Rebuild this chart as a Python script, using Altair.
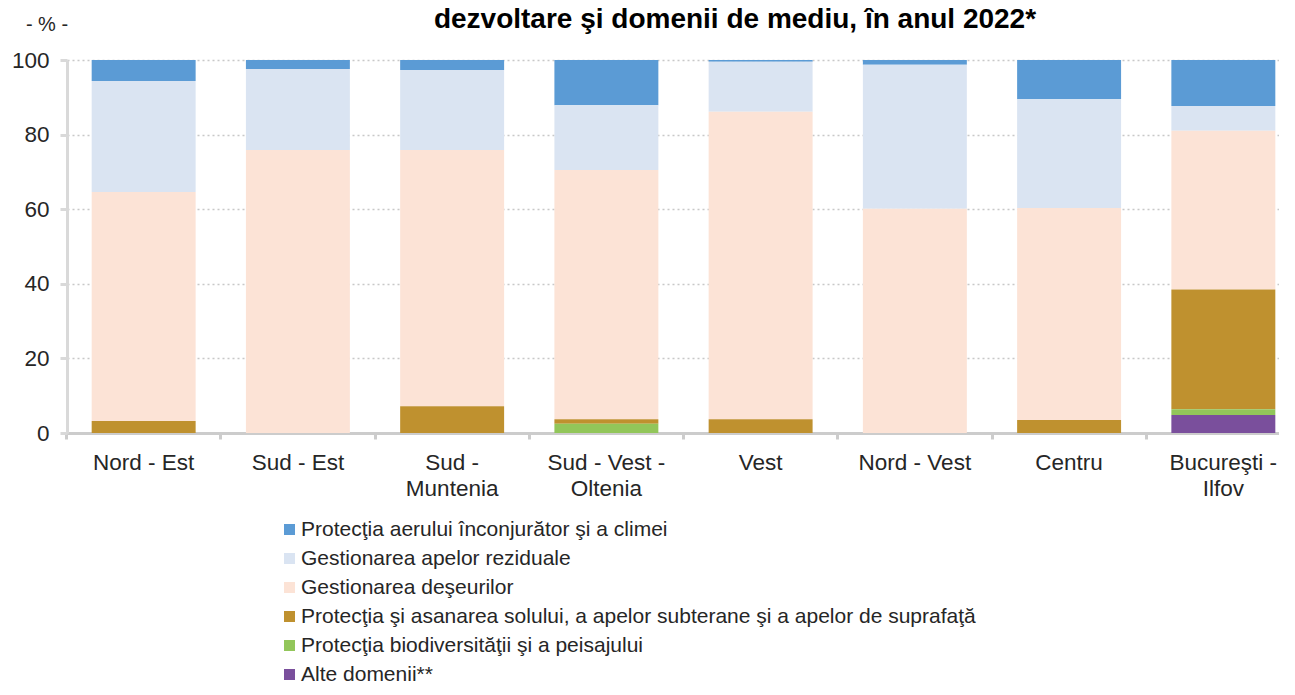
import altair as alt
import pandas as pd

categories = ["Nord - Est", "Sud - Est", "Sud -|Muntenia", "Sud - Vest -|Oltenia",
              "Vest", "Nord - Vest", "Centru", "Bucureşti -|Ilfov"]

series_names = [
    "Protecţia aerului înconjurător şi a climei",
    "Gestionarea apelor reziduale",
    "Gestionarea  deşeurilor",
    "Protecţia şi asanarea solului, a apelor subterane şi a apelor de suprafaţă",
    "Protecţia  biodiversităţii şi a  peisajului",
    "Alte domenii**",
]
series_colors = ["#5B9BD5", "#DAE4F2", "#FCE3D6", "#BF912F", "#92C65A", "#7A4F9C"]

aer = [5.6, 2.4, 2.7, 12.1, 0.5, 1.3, 10.5, 12.3]
ape = [29.8, 21.7, 21.4, 17.4, 13.4, 38.6, 29.2, 6.7]
deseuri = [61.4, 75.9, 68.7, 66.8, 82.4, 60.1, 56.8, 42.5]
sol = [3.2, 0.0, 7.2, 1.2, 3.7, 0.0, 3.5, 32.1]
bio = [0.0, 0.0, 0.0, 2.5, 0.0, 0.0, 0.0, 1.6]
alte = [0.0, 0.0, 0.0, 0.0, 0.0, 0.0, 0.0, 4.8]

series_values = [aer, ape, deseuri, sol, bio, alte]

rows = []
for si, (name, vals) in enumerate(zip(series_names, series_values)):
    for ci, cat in enumerate(categories):
        rows.append({"cat": cat, "serie": name, "val": vals[ci],
                     "ord": len(series_names) - 1 - si})
df = pd.DataFrame(rows)

FONT = "Liberation Sans"

chart = alt.Chart(df).mark_bar().encode(
    x=alt.X("cat:N", sort=categories,
            scale=alt.Scale(paddingInner=0.326, paddingOuter=0.16, range=[0, 1233]),
            axis=alt.Axis(title=None, labelAngle=0, labelFontSize=22.5,
                          labelColor="#262626", labelFont=FONT,
                          labelExpr="split(datum.label, '|')",
                          labelLineHeight=26,
                          labelPadding=12, tickSize=6, tickWidth=3,
                          tickColor="#CCCCCC", domainColor="#CCCCCC",
                          domainWidth=3, bandPosition=-0.24, grid=False)),
    y=alt.Y("val:Q", stack="zero",
            scale=alt.Scale(domain=[0, 100], nice=False),
            axis=alt.Axis(values=[0, 20, 40, 60, 80, 100], title="- % -",
                          titleAngle=0, titleX=-20.5, titleY=-30,
                          titleAlign="center", titleBaseline="alphabetic",
                          titleFontSize=20, titleFontWeight="normal",
                          titleFont=FONT, titleColor="#262626",
                          labelFontSize=22.5, labelFont=FONT, labelColor="#262626",
                          labelPadding=11, tickSize=7, tickWidth=3,
                          tickColor="#D9D9D9", domainColor="#D9D9D9",
                          domainWidth=3, gridColor="#C8C8C8",
                          gridDash=[2, 3], gridWidth=1.5)),
    color=alt.Color("serie:N", sort=series_names,
                    scale=alt.Scale(domain=series_names, range=series_colors),
                    legend=alt.Legend(title=None, orient="none", legendX=212,
                                      legendY=459, direction="vertical",
                                      symbolType="square", symbolSize=121,
                                      symbolStrokeWidth=0, labelFontSize=21,
                                      labelFont=FONT, labelColor="#262626",
                                      labelOffset=1, rowPadding=7,
                                      labelLimit=1000)),
    order=alt.Order("ord:Q", sort="ascending"),
).properties(
    width=1212,
    height=373,
    title=alt.TitleParams("dezvoltare şi domenii de mediu, în anul 2022*",
                          font=FONT, fontSize=28, fontWeight="bold",
                          color="#000000", anchor="middle", dx=62, dy=31,
                          offset=-11, baseline="alphabetic"),
    autosize=alt.AutoSizeParams(type="none"),
    padding={"left": 59, "top": 52, "right": 0, "bottom": 250},
).configure_view(stroke=None)

chart.save("out.html", embed_options={"renderer": "svg", "actions": False})
